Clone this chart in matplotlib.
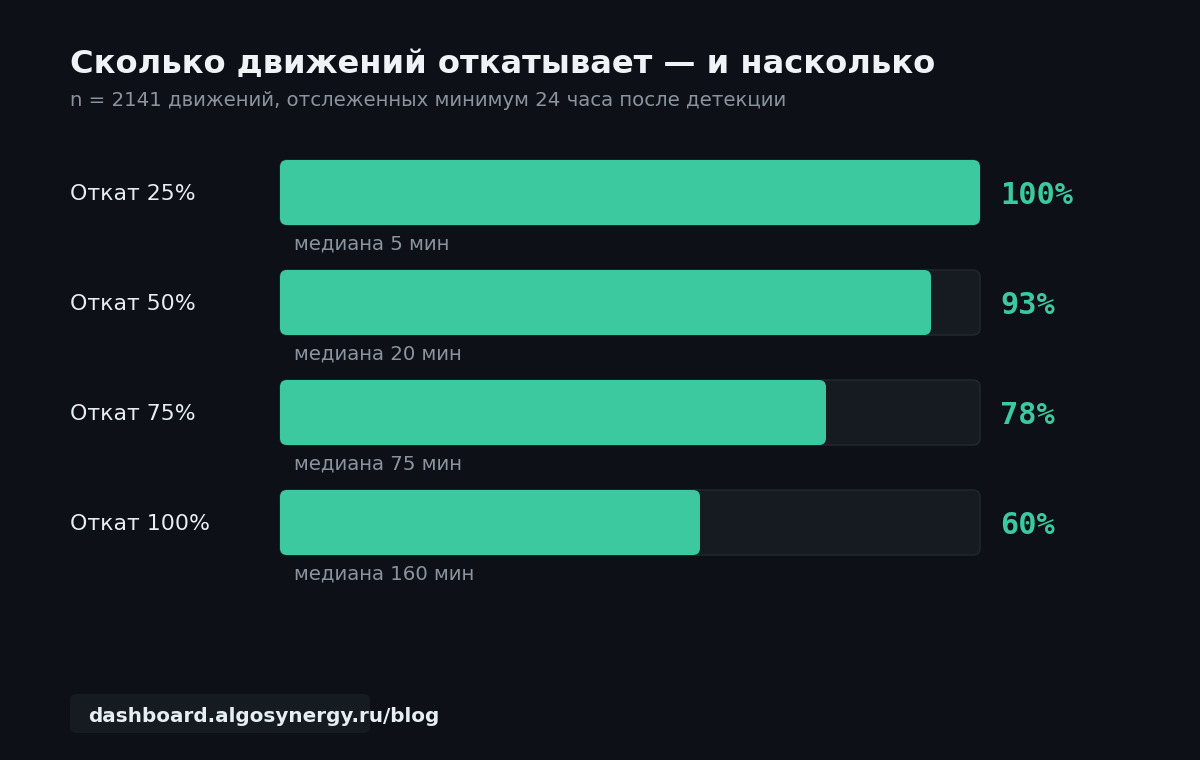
import matplotlib.pyplot as plt
from matplotlib.patches import FancyBboxPatch

plt.rcParams['font.family'] = ['DejaVu Sans']

# Данные
categorias = ['Откат 25%', 'Откат 50%', 'Откат 75%', 'Откат 100%']
porcentajes = [100, 93, 78, 60]
medianas = ['медиана 5 мин', 'медиана 20 мин', 'медиана 75 мин', 'медиана 160 мин']

titulo = 'Сколько движений откатывает — и насколько'
subtitulo = 'n = 2141 движений, отслеженных минимум 24 часа после детекции'
pie = 'dashboard.algosynergy.ru/blog'

fondo = '#0d1117'
pista = '#161b22'
borde = '#222830'
verde = '#3dc9a0'

fig = plt.figure(figsize=(12, 7.6), dpi=100, facecolor=fondo)
ax = fig.add_axes([0, 0, 1, 1])
ax.set_xlim(0, 1200)
ax.set_ylim(760, 0)
ax.axis('off')
ax.set_facecolor(fondo)

x0, ancho, alto = 280, 700, 65      # pista de cada barra (en píxeles)
y0, paso = 160, 110

ax.text(70, 73.5, titulo, fontsize=23.1, fontweight='bold', color='#f0f3f6', va='baseline')
ax.text(70, 106.5, subtitulo, fontsize=14.2, color='#8b949e', va='baseline')

for i, (cat, p, med) in enumerate(zip(categorias, porcentajes, medianas)):
    y = y0 + i*paso
    ax.add_patch(FancyBboxPatch((x0, y), ancho, alto, boxstyle='round,pad=0,rounding_size=7',
                                facecolor=pista, edgecolor=borde, linewidth=1))
    ax.add_patch(FancyBboxPatch((x0, y), ancho*p/100, alto, boxstyle='round,pad=0,rounding_size=7',
                                facecolor=verde, edgecolor='none'))
    ax.text(70, y + 39.5, cat, fontsize=15.8, color='#e6edf3', va='baseline')
    ax.text(x0 + ancho + 20, y + 44.5, f'{p}%', fontsize=21.8, fontweight='bold',
            family='DejaVu Sans Mono', color=verde, va='baseline')
    ax.text(x0 + 14, y + 89.5, med, fontsize=14.2, color='#8b949e', va='baseline')

ax.add_patch(FancyBboxPatch((70, 694), 300, 39, boxstyle='round,pad=0,rounding_size=6',
                            facecolor=pista, edgecolor='none'))
ax.text(88, 721.5, pie, fontsize=14.4, fontweight='bold', color='#e6edf3', va='baseline')

plt.savefig('out.png', dpi=100, facecolor=fondo)
plt.close()
